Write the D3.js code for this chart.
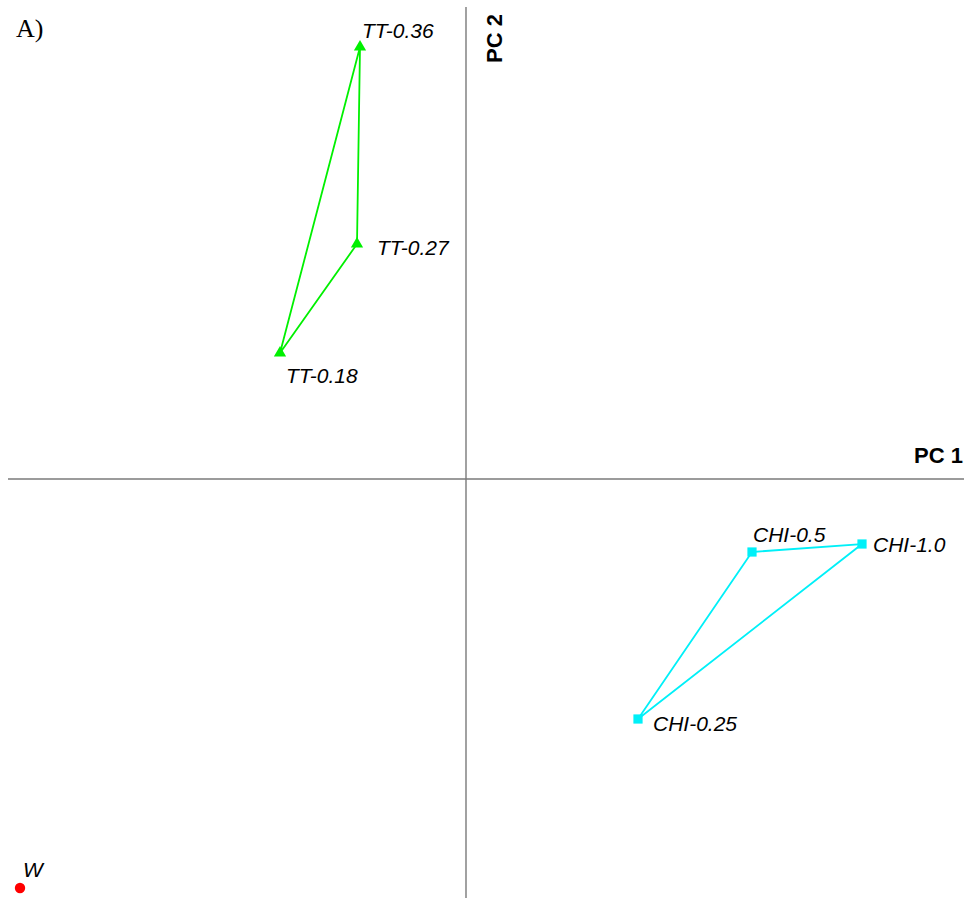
<!DOCTYPE html>
<html>
<head>
<meta charset="utf-8">
<script src="https://cdn.jsdelivr.net/npm/d3@7"></script>
<style>
  body { margin: 0; background: #fff; }
  svg { display: block; }
</style>
</head>
<body>
<div id="pca"></div>
<script>
// PCA scores (arbitrary units)
var tt_names = ["TT-0.36", "TT-0.27", "TT-0.18"];
var tt_pc1 = [-1.06, -1.09, -1.86];
var tt_pc2 = [4.32, 2.35, 1.26];

var chi_names = ["CHI-0.5", "CHI-1.0", "CHI-0.25"];
var chi_pc1 = [2.86, 3.96, 1.72];
var chi_pc2 = [-0.73, -0.65, -2.40];

var w_names = ["W"];
var w_pc1 = [-4.46];
var w_pc2 = [-4.09];

// label offsets from the point (layout only)
var label_offset = {
    "TT-0.36": [2, -9],
    "TT-0.27": [20, 11],
    "TT-0.18": [6, 30],
    "CHI-0.5": [1, -10],
    "CHI-1.0": [11, 8],
    "CHI-0.25": [15, 12],
    "W": [3, -11]
};

const width = 970, height = 898;

var svg = d3.select('#pca')
    .append('svg')
    .attr('width', width)
    .attr('height', height);

var x = d3.scaleLinear().domain([-4.58, 4.98]).range([8, 964]);
var y = d3.scaleLinear().domain([4.72, -4.19]).range([7, 898]);

// axes through the origin
svg.append('line')
    .attr('x1', x(-4.58)).attr('x2', x(4.98))
    .attr('y1', y(0)).attr('y2', y(0))
    .attr('stroke', '#7a7a7a')
    .attr('stroke-width', 1.4);

svg.append('line')
    .attr('x1', x(0)).attr('x2', x(0))
    .attr('y1', y(4.72)).attr('y2', y(-4.19))
    .attr('stroke', '#7a7a7a')
    .attr('stroke-width', 1.4);

svg.append('text')
    .attr('x', 963)
    .attr('y', 463)
    .attr('text-anchor', 'end')
    .attr('font-family', 'Liberation Sans, Arial, sans-serif')
    .attr('font-weight', 'bold')
    .attr('font-size', '22px')
    .text('PC 1');

svg.append('text')
    .attr('transform', 'translate(' + 502 + ', ' + 63 + ') rotate(-90)')
    .attr('text-anchor', 'start')
    .attr('font-family', 'Liberation Sans, Arial, sans-serif')
    .attr('font-weight', 'bold')
    .attr('font-size', '22px')
    .text('PC 2');

svg.append('text')
    .attr('x', 16)
    .attr('y', 37)
    .attr('font-family', 'Liberation Serif, Times New Roman, serif')
    .attr('font-size', '26px')
    .text('A)');

function makeGroup(names, pc1, pc2, color, symbol, size, closed){
    var pts = names.map(function(n, i){ return {name: n, x: pc1[i], y: pc2[i]}; });

    if(closed && pts.length > 2){
        var ring = pts.concat([pts[0]]);
        svg.append('path')
            .datum(ring)
            .attr('d', d3.line()
                .x(function(d){ return x(d.x); })
                .y(function(d){ return y(d.y); }))
            .attr('fill', 'none')
            .attr('stroke', color)
            .attr('stroke-width', 1.8);
    }

    svg.selectAll(null)
        .data(pts)
        .enter()
        .append('path')
        .attr('transform', function(d){ return 'translate(' + x(d.x) + ', ' + y(d.y) + ')'; })
        .attr('d', d3.symbol().type(symbol).size(size))
        .attr('fill', color);

    svg.selectAll(null)
        .data(pts)
        .enter()
        .append('text')
        .attr('x', function(d){ return x(d.x) + label_offset[d.name][0]; })
        .attr('y', function(d){ return y(d.y) + label_offset[d.name][1]; })
        .attr('font-family', 'Liberation Sans, Arial, sans-serif')
        .attr('font-style', 'italic')
        .attr('font-size', '21px')
        .text(function(d){ return d.name; });
}

makeGroup(tt_names, tt_pc1, tt_pc2, '#00f000', d3.symbolTriangle, 65, true);
makeGroup(chi_names, chi_pc1, chi_pc2, '#00f0f8', d3.symbolSquare, 85, true);
makeGroup(w_names, w_pc1, w_pc2, '#ff0000', d3.symbolCircle, 85, false);
</script>
</body>
</html>
